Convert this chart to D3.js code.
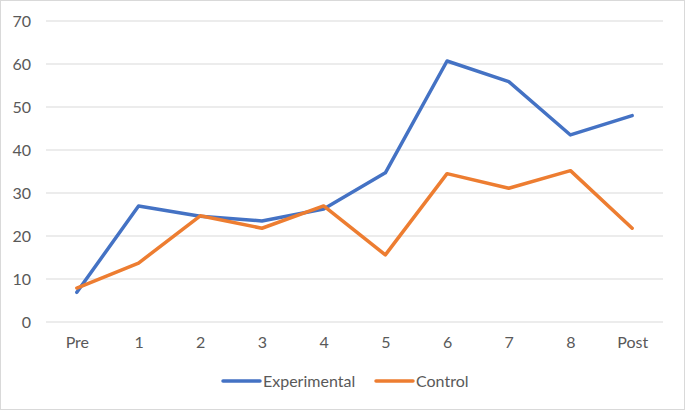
<!DOCTYPE html>
<html>
<head>
<meta charset="utf-8">
<script src="https://cdn.jsdelivr.net/npm/d3@7"></script>
<style>
  body { margin: 0; background: #fff; }
  svg { display: block; }
</style>
</head>
<body>
<svg id="chart" width="685" height="410"></svg>
<script>
const categories = ["Pre", "1", "2", "3", "4", "5", "6", "7", "8", "Post"]
const experimental = [6.9, 27.0, 24.6, 23.5, 26.3, 34.7, 60.7, 55.9, 43.5, 48.0]
const control = [7.9, 13.7, 24.7, 21.8, 27.0, 15.6, 34.5, 31.1, 35.2, 21.8]
const yTicks = [0, 10, 20, 30, 40, 50, 60, 70]
const seriesNames = ["Experimental", "Control"]
const colors = ["#4472C4", "#ED7D31"]

const width = 685, height = 410
const margin = { left: 46, right: 22, top: 21, bottom: 88 }

const svg = d3.select("#chart")
    .style("font-family", "Lato, 'Open Sans', sans-serif")

svg.append("rect")
    .attr("x", 0.5).attr("y", 0.5)
    .attr("width", width - 1).attr("height", height - 1)
    .attr("fill", "#fff")
    .attr("stroke", "#d9d9d9")

let x = d3.scalePoint()
    .domain(categories)
    .range([margin.left, width - margin.right])
    .padding(0.5)

let y = d3.scaleLinear()
    .domain([0, 70])
    .range([height - margin.bottom, margin.top])

// gridlines
svg.append("g")
    .selectAll("line")
    .data(yTicks)
    .join("line")
    .attr("x1", margin.left)
    .attr("x2", width - margin.right)
    .attr("y1", d => y(d))
    .attr("y2", d => y(d))
    .attr("stroke", "#d9d9d9")
    .attr("stroke-width", 1)

// y axis labels
let y_axis = d3.axisLeft(y).tickValues(yTicks).tickSize(0).tickPadding(0)
const gy = svg.append("g")
    .attr("transform", `translate(${margin.left - 15}, 0)`)
    .call(y_axis)
gy.select(".domain").remove()
gy.selectAll("text")
    .attr("fill", "#595959")
    .style("font-size", "16px")
    .style("font-family", "Lato, 'Open Sans', sans-serif")

// x axis labels
let x_axis = d3.axisBottom(x).tickSize(0).tickPadding(0)
const gx = svg.append("g")
    .attr("transform", `translate(0, ${y(0) + 15})`)
    .call(x_axis)
gx.select(".domain").remove()
gx.selectAll("text")
    .attr("fill", "#595959")
    .style("font-size", "16px")
    .style("font-family", "Lato, 'Open Sans', sans-serif")

// lines
const line = d3.line()
    .x((d, i) => x(categories[i]))
    .y(d => y(d))

const series = [experimental, control]
svg.append("g")
    .selectAll("path")
    .data(series)
    .join("path")
    .attr("d", d => line(d))
    .attr("fill", "none")
    .attr("stroke", (d, i) => colors[i])
    .attr("stroke-width", 3.5)
    .attr("stroke-linejoin", "round")
    .attr("stroke-linecap", "round")

// legend
const legendY = 381
const legendX = [223, 376]
const legend = svg.append("g")
    .selectAll("g")
    .data(seriesNames)
    .join("g")
    .attr("transform", (d, i) => `translate(${legendX[i]}, ${legendY})`)

legend.append("line")
    .attr("x1", 0).attr("x2", 37)
    .attr("y1", 0).attr("y2", 0)
    .attr("stroke", (d, i) => colors[i])
    .attr("stroke-width", 3.5)
    .attr("stroke-linecap", "round")

legend.append("text")
    .attr("x", 40)
    .attr("y", 0)
    .attr("dy", "0.35em")
    .attr("fill", "#595959")
    .style("font-size", "16px")
    .text(d => d)
</script>
</body>
</html>
